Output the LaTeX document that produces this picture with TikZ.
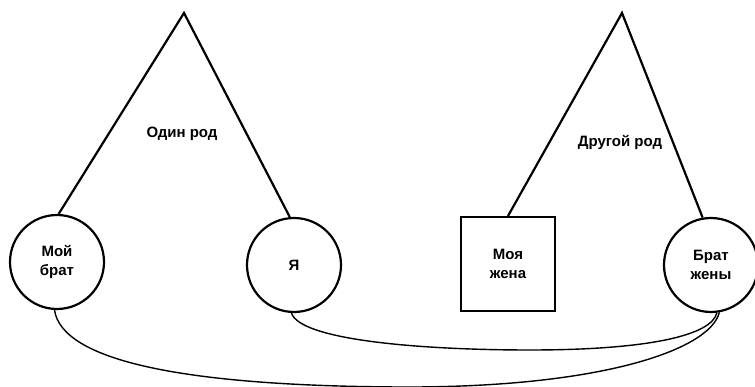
\documentclass[tikz,border=0pt]{standalone}
\usepackage{fontspec}
\setmainfont{Liberation Sans}
\begin{document}
\begin{tikzpicture}[x=1pt,y=-1pt,
  txt/.style={font=\fontsize{15}{18.5}\selectfont\bfseries},
  person/.style={circle,draw,line width=2.2pt,minimum size=94pt,inner sep=0pt,align=center,txt},
  wife/.style={rectangle,draw,line width=2pt,minimum size=94pt,inner sep=0pt,align=center,txt},
  kin/.style={line width=2.2pt},
  tie/.style={line width=1.4pt}]
\useasboundingbox (0,0) rectangle (755,387);
\node[person] (mb) at (57,262) {Мой\\брат};
\node[person] (ya) at (294,265) {Я};
\node[wife] (mw) at (508,264) {Моя\\жена};
\node[person] (bw) at (711,265) {Брат\\жены};
\coordinate (a1) at (184,13);
\coordinate (a2) at (622,13);
\draw[kin] (mb.88) -- (a1) -- (ya.95);
\draw[kin] (mw.north) -- (a2) -- (bw.100);
\node[txt] (l1) at (182,134) {Один род};
\node[txt] (l2) at (620,142) {Другой род};
\draw[tie] (mb.-93) .. controls (62,360) and (180,386) .. (400,387)
  .. controls (600,388) and (710,350) .. (bw.-80);
\draw[tie] (ya.-93) .. controls (300,340) and (420,350) .. (530,350)
  .. controls (650,350) and (712,335) .. (bw.-83);
\end{tikzpicture}
\end{document}
